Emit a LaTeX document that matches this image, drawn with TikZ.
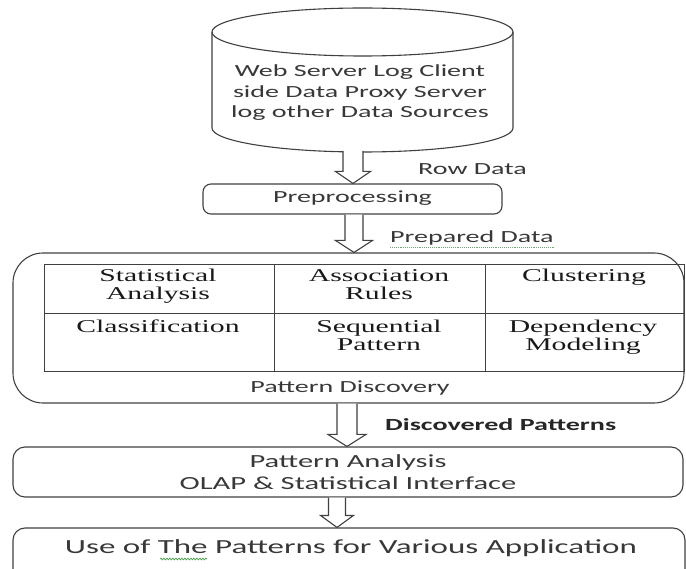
\documentclass[tikz,border=0pt]{standalone}
\usepackage{fontspec}
\setmainfont{Liberation Serif}[FakeStretch=1.65]
\newfontfamily\calib{Carlito}[FakeStretch=1.65]
\usetikzlibrary{calc,decorations.pathmorphing}

% hollow block arrow: centre x, start anchor, tip anchor, shaft half-width, head half-width
\newcommand\blockarrow[5]{%
  \draw[arrowshape] let \p1=(#2), \p2=(#3) in
    (#1pt-#4pt,\y1) -- (#1pt-#4pt,\y2+12pt) -- (#1pt-#5pt,\y2+12pt) -- (#1pt,\y2)
    -- (#1pt+#5pt,\y2+12pt) -- (#1pt+#4pt,\y2+12pt) -- (#1pt+#4pt,\y1);}

\begin{document}
\begin{tikzpicture}[x=1pt,y=-1pt,
  outline/.style={draw=black!75, line width=1.1pt},
  rbox/.style={outline, rounded corners=#1, inner sep=0pt},
  arrowshape/.style={outline, fill=white, line join=miter},
  sans/.style={font=\calib\fontsize{17}{20.5}\selectfont, text=black!78, inner sep=0pt},
  sansline/.style={sans, anchor=base},
  cell/.style={font=\fontsize{18}{19}\selectfont, text=black!90, inner sep=0pt, anchor=base},
]
\useasboundingbox (0,0) rectangle (686,569);

% data sources: cylinder body with its lower rim
\draw[outline, fill=white] (212,32) -- (212,128)
  .. controls (212,141.25) and (279.4,152) .. (362.5,152)
  .. controls (445.6,152) and (513,141.25) .. (513,128) -- (513,32);
% top rim, a full ellipse
\draw[outline] (212,32)
  .. controls (212,45.25) and (279.4,56) .. (362.5,56)
  .. controls (445.6,56) and (513,45.25) .. (513,32)
  .. controls (513,18.75) and (445.6,8) .. (362.5,8)
  .. controls (279.4,8) and (212,18.75) .. (212,32) -- cycle;
\coordinate (cylbot) at (353,151);
\node[sansline] (src1) at (360,77) {Web Server Log Client};
\node[sansline] (src2) at (360,97.5) {side Data Proxy Server};
\node[sansline] (src3) at (360,118) {log other Data Sources};

% preprocessing
\node[rbox=8, sans, minimum width=299, minimum height=30, text height=12, text depth=4]
  (pre) at (352.5,199) {Preprocessing};
\node[sansline, anchor=base west] (rowdata) at (418,175) {Row Data};

% pattern discovery frame and table
\node[rbox=30, minimum width=671, minimum height=150] (pd) at (348.5,328) {};
\node[sansline] (pdlabel) at (350,393) {Pattern Discovery};
\node[sansline, anchor=base west] (prepared) at (390,243) {Prepared Data};
\draw[densely dotted, green!35!black!55, line width=0.9pt]
  ($(prepared.base west)+(0,4)$) -- ($(prepared.base east)+(0,4)$);

\draw[outline, line width=1pt] (44,265) rectangle (684,372);
\draw[outline, line width=1pt] (44,314) -- (684,314);
\draw[outline, line width=1pt] (274,265) -- (274,372);
\draw[outline, line width=1pt] (485,265) -- (485,372);

\node[cell] (c11a) at (158,282) {Statistical};
\node[cell] (c11b) at (158,300) {Analysis};
\node[cell] (c12a) at (379,282) {Association};
\node[cell] (c12b) at (379,300) {Rules};
\node[cell] (c13a) at (584,282) {Clustering};
\node[cell] (c21a) at (158,333) {Classification};
\node[cell] (c22a) at (379,333) {Sequential};
\node[cell] (c22b) at (379,351) {Pattern};
\node[cell] (c23a) at (583,333) {Dependency};
\node[cell] (c23b) at (583,351) {Modeling};

% pattern analysis
\node[sansline, anchor=base west, font=\calib\bfseries\fontsize{17}{20.5}\selectfont, text=black!85]
  (discovered) at (385,431) {Discovered Patterns};
\node[rbox=12, sans, font=\calib\fontsize{18.5}{22}\selectfont, align=center,
  minimum width=670, minimum height=50] (pa) at (348,472)
  {Pattern Analysis\\OLAP \& Statistical Interface};

% use of the patterns (box runs off the lower edge)
\begin{scope}
\clip (0,0) rectangle (686,569);
\node[rbox=12, minimum width=672, minimum height=82] (usebox) at (349,569) {};
\end{scope}
\node[sansline, font=\calib\fontsize{20}{24}\selectfont] (use) at (351,553)
  {Use of The Patterns for Various Application};
\draw[green!45!black!70, line width=0.7pt,
  decorate, decoration={snake, amplitude=0.9pt, segment length=3pt}]
  (160,559) -- (207,559);

% flow arrows
\blockarrow{353}{cylbot}{pre.north}{10}{17.5}
\blockarrow{354}{pre.south}{pd.north}{9}{18.5}
\blockarrow{347}{pd.south}{pa.north}{10}{19}
\blockarrow{337}{pa.south}{usebox.north}{8.5}{16.5}
\end{tikzpicture}
\end{document}
